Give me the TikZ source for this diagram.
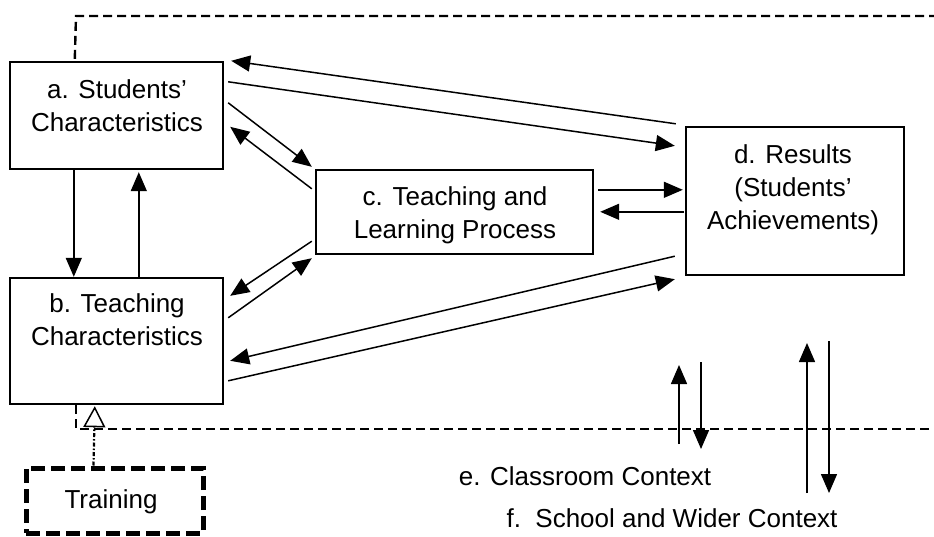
\documentclass[tikz,border=0pt]{standalone}
\usepackage{fontspec}
\setmainfont{Liberation Sans}
\usetikzlibrary{arrows.meta,calc}
\begin{document}
\begin{tikzpicture}[x=1pt,y=-1pt,
  box/.style={draw,line width=2.4pt,rectangle,inner sep=0pt},
  txt/.style={inner sep=0pt,align=center,font=\fontsize{26}{33}\selectfont},
  con/.style={line width=1.5pt,-{Triangle[length=19pt,width=16pt]}},
  ctx/.style={line width=2.4pt,dash pattern=on 9pt off 5pt},
  trbox/.style={draw,line width=5pt,dash pattern=on 14pt off 6pt,rectangle,inner sep=0pt},
  trarrow/.style={line width=2.2pt,dash pattern=on 4pt off 2pt on 1.5pt off 2pt,-{Triangle[open,length=21pt,width=22pt,fill=white,line width=1.5pt]}}]
\useasboundingbox (0,0) rectangle (934,536);
% boxes
\node[box,minimum width=213pt,minimum height=107pt] (a) at (116.5,115.5) {};
\node[box,minimum width=213pt,minimum height=126pt] (b) at (116.5,341) {};
\node[box,minimum width=277pt,minimum height=84pt] (c) at (454.5,212) {};
\node[box,minimum width=218pt,minimum height=148pt] (d) at (795,201) {};
\node[trbox,minimum width=177pt,minimum height=65pt] (tr) at (114.5,500.5) {};
% texts
\node[txt,anchor=north] (at) at (117,79) {a. Students’\\Characteristics};
\node[txt,anchor=north] (bt) at (117,293) {b. Teaching\\Characteristics};
\node[txt,anchor=north] (ct) at (455,186) {c. Teaching and\\Learning Process};
\node[txt,anchor=north] (dt) at (793,144) {d. Results\\(Students’\\Achievements)};
\node[txt,anchor=base] (trt) at (111,508) {Training};
\node[txt,anchor=base] (e) at (585,485) {e. Classroom Context};
\node[txt,anchor=base] (f) at (672,527) {f.\ \ School and Wider Context};
% context dashed lines
\coordinate (top1) at (76,16);
\coordinate (top2) at (934,16);
\coordinate (bot1) at (76,429);
\coordinate (bot2) at (934,429);
\draw[ctx] ($(a.north west)+(66,-2)$) -- (top1) -- (top2);
\draw[ctx] (b.south west -| top1) -- (bot1) -- (bot2);
% connectors
\draw[con] ($(d.north west)+(-9,-2)$) -- ($(a.north east)+(7,0)$);
\draw[con] ($(a.north east)+(4,21)$) -- ($(d.north west)+(-10,20)$);
\draw[con] ($(a.north east)+(4,42)$) -- ($(c.north west)+(-3,-2)$);
\draw[con] ($(c.north west)+(-3,20)$) -- ($(a.north east)+(6,66)$);
\draw[con] ($(a.south west)+(65,0)$) -- ($(b.north west)+(65,0)$);
\draw[con] ($(b.north west)+(130,0)$) -- ($(a.south west)+(130,2)$);
\draw[con] ($(c.south west)+(-3,-14)$) -- ($(b.north east)+(6,19)$);
\draw[con] ($(b.north east)+(4,41)$) -- ($(c.south west)+(-3,3)$);
\draw[con] ($(d.south west)+(-10,-20)$) -- ($(b.north east)+(6,84)$);
\draw[con] ($(b.north east)+(4,104)$) -- ($(d.south west)+(-10,3)$);
\draw[con] ($(c.north east)+(4,21)$) -- ($(d.north west)+(-2,64)$);
\draw[con] ($(d.north west)+(-1,86)$) -- ($(c.north east)+(6,43)$);
% context arrows
\coordinate (e1s) at (679,444); \coordinate (e1t) at (679,365);
\coordinate (e2s) at (701,362); \coordinate (e2t) at (701,449);
\coordinate (f1s) at (807,493); \coordinate (f1t) at (807,343);
\coordinate (f2s) at (829,341); \coordinate (f2t) at (829,493);
\draw[con] (e1s) -- (e1t);
\draw[con] (e2s) -- (e2t);
\draw[con] (f1s) -- (f1t);
\draw[con] (f2s) -- (f2t);
% training arrow
\draw[trarrow] ($(tr.north west)+(70,0)$) -- ($(b.south west)+(86,1)$);
\end{tikzpicture}
\end{document}
